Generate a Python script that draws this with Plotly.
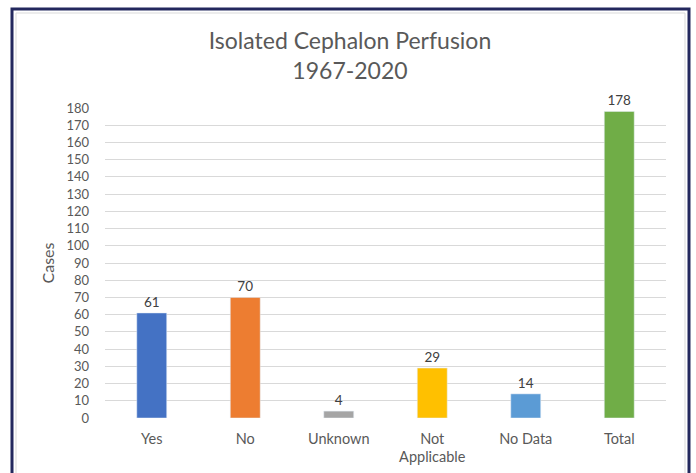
import plotly.graph_objects as go

# Dados do gráfico
categories = ['Yes', 'No', 'Unknown', 'Not<br>Applicable', 'No Data', 'Total']
cases = [61, 70, 4, 29, 14, 178]
bar_colors = ['#4472C4', '#ED7D31', '#A5A5A5', '#FFC000', '#5B9BD5', '#70AD47']
y_ticks = list(range(0, 190, 10))

FONT = 'Lato'
GRAY = '#595959'

fig = go.Figure(go.Bar(
    x=categories,
    y=cases,
    marker_color=bar_colors,
    text=[str(v) for v in cases],
    textposition='outside',
    textfont=dict(size=13.5, color='#404040', family=FONT),
    cliponaxis=False,
))

# área do gráfico: x 105..666 px, y 108..418 px
def px_x(p):
    return (p - 105) / 561

def px_y(p):
    return (418 - p) / 310

fig.update_layout(
    width=696,
    height=473,
    margin=dict(l=105, r=30, t=108, b=55),
    paper_bgcolor='white',
    plot_bgcolor='white',
    bargap=0.68,
    showlegend=False,
    font=dict(family=FONT, color=GRAY),
    title=dict(
        text='Isolated Cephalon Perfusion<br>1967-2020',
        x=px_x(350), xref='paper', xanchor='center',
        y=1 - 49 / 473, yanchor='top',
        font=dict(size=23, color=GRAY, family=FONT),
    ),
    xaxis=dict(
        showgrid=False,
        showline=False,
        ticks='',
        automargin=False,
        ticklabelstandoff=10,
        tickfont=dict(size=14.5, color=GRAY, family=FONT),
    ),
    yaxis=dict(
        range=[0, 180],
        tickvals=y_ticks,
        showgrid=True,
        gridcolor='#D9D9D9',
        gridwidth=1,
        zeroline=False,
        showline=False,
        ticks='',
        automargin=False,
        ticklabelstandoff=15,
        tickfont=dict(size=13, color=GRAY, family=FONT),
        title=dict(text='Cases', font=dict(size=16, color=GRAY, family=FONT), standoff=7),
    ),
    shapes=[
        # borda clara do gráfico
        dict(type='rect', xref='paper', yref='paper',
             x0=px_x(16), x1=px_x(685), y0=px_y(13), y1=px_y(480),
             line=dict(color='#D9D9D9', width=1), layer='below'),
        # moldura azul escura
        dict(type='rect', xref='paper', yref='paper',
             x0=px_x(12), x1=px_x(689), y0=px_y(9), y1=px_y(490),
             line=dict(color='#23285E', width=3)),
    ],
)

fig.write_html('out.html', config={'displayModeBar': False},
               post_script="document.body.style.margin='0';")
